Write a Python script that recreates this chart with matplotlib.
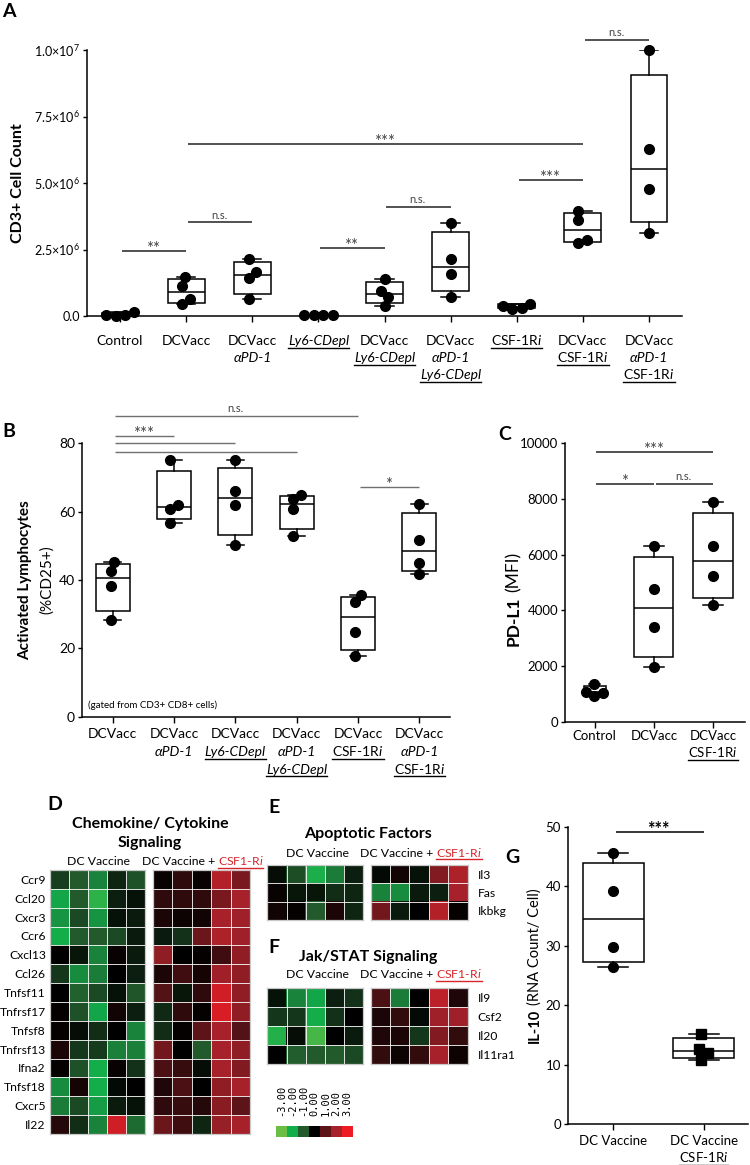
import numpy as np
import matplotlib
matplotlib.use('Agg')
import matplotlib.pyplot as plt
import matplotlib.transforms as mtransforms
from matplotlib.colors import LinearSegmentedColormap
from matplotlib.lines import Line2D

W, H = 750, 1165
plt.rcParams['font.family'] = ['Lato', 'DejaVu Sans']
plt.rcParams['mathtext.fontset'] = 'custom'
plt.rcParams['mathtext.rm'] = 'Lato'
plt.rcParams['mathtext.it'] = 'Lato:italic'
plt.rcParams['mathtext.bf'] = 'Lato:bold'

# ---------------- data ----------------
# A: CD3+ cell count (millions)
a_groups = ['Control', 'DCVacc', 'DCVacc\nαPD-1', 'Ly6-CDepl', 'DCVacc\nLy6-CDepl',
            'DCVacc\nαPD-1\nLy6-CDepl', 'CSF-1Ri', 'DCVacc\nCSF-1Ri', 'DCVacc\nαPD-1\nCSF-1Ri']
a_counts_m = [[0.04, 0.0, 0.04, 0.16],
              [1.47, 1.13, 0.64, 0.45],
              [2.14, 1.67, 1.44, 0.64],
              [0.03, 0.02, 0.03, 0.02],
              [1.38, 0.95, 0.73, 0.39],
              [3.50, 2.13, 1.57, 0.71],
              [0.38, 0.28, 0.30, 0.45],
              [3.96, 3.60, 2.87, 2.74],
              [10.0, 6.28, 4.79, 3.11]]
a_sig = [(0, 1, 2.43, '**'), (1, 2, 3.52, 'n.s.'), (3, 4, 2.56, '**'), (4, 5, 4.11, 'n.s.'),
         (1, 7, 6.48, '***'), (6, 7, 5.11, '***'), (7, 8, 10.38, 'n.s.')]

# B: activated lymphocytes (%CD25+)
b_groups = ['DCVacc', 'DCVacc\nαPD-1', 'DCVacc\nLy6-CDepl', 'DCVacc\nαPD-1\nLy6-CDepl',
            'DCVacc\nCSF-1Ri', 'DCVacc\nαPD-1\nCSF-1Ri']
b_pct = [[45.2, 42.7, 38.3, 28.3],
         [75.1, 62.0, 60.8, 56.8],
         [75.1, 65.9, 62.0, 50.2],
         [64.9, 63.6, 60.8, 53.0],
         [35.6, 33.7, 24.9, 17.8],
         [62.2, 51.7, 45.1, 41.7]]
b_sig = [(0, 4, 88.0, 'n.s.'), (0, 1, 82.1, '***'), (0, 2, 80.0, ''), (0, 3, 77.6, ''),
         (4, 5, 67.3, '*')]

# C: PD-L1 (MFI)
c_groups = ['Control', 'DCVacc', 'DCVacc\nCSF-1Ri']
c_mfi = [[1355, 1078, 934, 1020],
         [6311, 4755, 3413, 1976],
         [7902, 6311, 5244, 4192]]
c_sig = [(0, 2, 9677, '***'), (0, 1, 8549, '*'), (1, 2, 8549, 'n.s.')]

# G: IL-10 RNA count / cell
g_groups = ['DC Vaccine', 'DC Vaccine\nCSF-1Ri']
g_il10 = [[45.5, 39.2, 29.7, 26.4],
          [15.1, 12.55, 11.9, 10.76]]
g_sig = [(0, 1, 49.1, '***')]

# D/E/F heatmaps (z-scores)
d_genes = ['Ccr9', 'Ccl20', 'Cxcr3', 'Ccr6', 'Cxcl13', 'Ccl26', 'Tnfsf11', 'Tnfrsf17',
           'Tnfsf8', 'Tnfrsf13', 'Ifna2', 'Tnfsf18', 'Cxcr5', 'Il22']
d_vacc = [[-0.7, -1.0, -1.5, -0.4, -0.9],
          [-1.9, -1.0, -2.3, -0.35, -0.2],
          [-1.7, -0.8, -1.7, -0.2, -0.3],
          [-2.0, -1.0, -1.0, -0.8, -0.3],
          [0.0, -0.25, -1.5, 0.1, -0.3],
          [-0.6, -1.6, -1.4, 0.0, -0.35],
          [0.0, -1.1, -0.8, -0.2, -0.95],
          [0.05, -0.9, -1.9, 0.2, -0.35],
          [0.05, -0.15, -0.5, 0.0, -1.5],
          [0.3, -0.6, -0.65, -1.45, -1.45],
          [0.05, -0.9, -2.0, 0.1, -0.55],
          [-1.6, 0.25, -2.0, -0.1, 0.0],
          [-1.4, -0.8, -1.8, -0.3, -0.2],
          [0.4, -0.5, -1.5, 2.6, -1.2]]
d_csf = [[0.1, 0.5, 0.1, 2.2, 1.4],
         [0.5, 0.5, 0.5, 1.4, 2.0],
         [0.3, 0.15, 0.2, 2.0, 1.9],
         [-0.3, -0.55, 1.2, 2.1, 1.9],
         [1.7, 0.0, 0.05, 0.7, 1.7],
         [0.3, 0.7, 0.25, 1.9, 1.7],
         [0.9, -0.25, 0.5, 2.6, 1.7],
         [-0.45, 0.5, 0.05, 2.7, 1.7],
         [-0.5, 0.05, 1.0, 2.0, 0.9],
         [1.3, 0.0, -1.0, 2.0, 1.7],
         [0.8, 0.6, -0.15, 2.0, 1.5],
         [0.35, 0.8, 0.0, 1.7, 2.0],
         [0.5, 0.6, 0.4, 1.6, 1.0],
         [1.2, 0.7, -0.4, 1.8, 2.0]]
e_genes = ['Il3', 'Fas', 'Ikbkg']
e_vacc = [[-0.15, -0.85, -2.1, -1.4, -0.35],
          [0.1, -0.25, -0.25, -0.5, -0.4],
          [0.2, 0.05, -1.0, 0.3, -0.4]]
e_csf = [[-0.1, 0.2, -0.2, 1.5, 2.1],
         [-1.5, -1.6, -0.3, -0.35, 2.0],
         [1.3, -0.3, 0.0, 2.2, 0.05]]
f_genes = ['Il9', 'Csf2', 'Il20', 'Il11ra1']
f_vacc = [[-0.2, -1.5, -1.9, -0.35, -0.55],
          [-0.6, -0.6, -2.0, -0.55, 0.0],
          [-2.2, -0.15, -2.6, 0.0, -0.3],
          [0.0, -1.05, -1.0, -1.0, -0.8]]
f_csf = [[0.8, -1.4, 0.0, 2.3, 0.35],
         [0.3, 0.55, -0.1, 1.9, 1.9],
         [0.35, 0.3, -0.6, 1.5, 0.55],
         [0.55, 0.15, 0.55, 2.0, 0.15]]
scale_ticks = [-3, -2, -1, 0, 1, 2, 3]
scale_colors = ['#6abd45', '#12ad4b', '#225a2c', '#000000', '#5c1418', '#a6222a', '#ed1c24']

RED = '#d7262b'

fig = plt.figure(figsize=(W / 100, H / 100), dpi=100)


def fy(y):
    return 1 - y / H


def px_axes(l, t, r, b):
    return fig.add_axes([l / W, 1 - b / H, (r - l) / W, (b - t) / H])


def style_axes(ax):
    for s in ['top', 'right']:
        ax.spines[s].set_visible(False)
    for s in ['left', 'bottom']:
        ax.spines[s].set_linewidth(1.1)
    ax.tick_params(axis='both', length=4, width=1.0, direction='out')


def box_stats(vals):
    v = np.asarray(vals, float)
    q1, med, q3 = np.percentile(v, [25, 50, 75], method='weibull')
    return dict(med=med, q1=q1, q3=q3, whislo=v.min(), whishi=v.max())


def swarm_x(ax, x, vals, diam):
    disp = ax.transData.transform(np.column_stack([np.full(len(vals), x), vals]))
    ys = disp[:, 1]
    order = np.argsort(ys)
    offs = np.zeros(len(vals))
    placed = []
    for i in order:
        cands = [0.0]
        for j in placed:
            dy = ys[i] - ys[j]
            if abs(dy) < diam:
                dx = np.sqrt(diam ** 2 - dy ** 2)
                cands += [offs[j] + dx, offs[j] - dx]
        cands.sort(key=abs)
        for c in cands:
            if all((c - offs[j]) ** 2 + (ys[i] - ys[j]) ** 2 >= diam ** 2 - 1e-6 for j in placed):
                offs[i] = c
                break
        placed.append(i)
    offs -= (offs.max() + offs.min()) / 2
    ppu = ax.transData.transform((1, 0))[0] - ax.transData.transform((0, 0))[0]
    return x + offs / ppu


def box_panel(ax, groups, widths, marker='o', ms=7, diam=9.5, scale=1.0):
    stats = [box_stats(np.asarray(g) * scale) for g in groups]
    ax.bxp(stats, positions=range(len(groups)), widths=widths, showfliers=False,
           patch_artist=True, manage_ticks=False,
           boxprops=dict(facecolor='white', edgecolor='black', linewidth=1.1),
           medianprops=dict(color='black', linewidth=1.1),
           whiskerprops=dict(color='black', linewidth=1.1),
           capprops=dict(color='black', linewidth=1.1))
    for i, g in enumerate(groups):
        v = np.asarray(g) * scale
        xs = swarm_x(ax, i, v, diam)
        ax.plot(xs, v, linestyle='none', marker=marker, ms=ms, color='black',
                zorder=4, clip_on=False)


def sig_bars(ax, bars, scale=1.0, lcol='#222222', tcol='#444444', lw=1.1, fs=8, weight='normal'):
    for i, j, y, lab in bars:
        y = y * scale
        ax.plot([i + 0.03, j - 0.0], [y, y], color=lcol, lw=lw, clip_on=False,
                solid_capstyle='butt')
        if lab:
            star = '*' in lab
            off = -3.0 if star else 3.5
            tr = mtransforms.offset_copy(ax.transData, fig=fig, y=off, units='dots')
            ax.text((i + j) / 2, y, lab, transform=tr, ha='center', va='baseline',
                    fontsize=fs + 4 if star else fs, color=tcol, fontweight=weight,
                    clip_on=False)


underlines = []  # (text, color, drop_px)


def group_labels(ax, labels, first, step, fs):
    trans = mtransforms.blended_transform_factory(ax.transData, fig.transFigure)
    axis_y = H - ax.get_position().y0 * H
    for i, lab in enumerate(labels):
        for k, line in enumerate(lab.split('\n')):
            y = axis_y + first + k * step
            italic = ('PD-1' in line) or ('Ly6' in line)
            under = ('Ly6' in line) or ('CSF' in line)
            s = line.replace('Ri', r'R$\mathit{i}$') if 'CSF' in line else line
            t = ax.text(i, fy(y), s, transform=trans, ha='center', va='baseline',
                        fontsize=fs, fontstyle='italic' if italic else 'normal')
            if under:
                underlines.append((t, 'black', 2.8))


# ---------------- Panel A ----------------
axA = px_axes(87, 50, 682, 316)
style_axes(axA)
axA.set_xlim(-0.5, 8.5)
axA.set_ylim(0, 1e7)
axA.set_yticks([0, 2.5e6, 5e6, 7.5e6, 1e7])


def sci_fmt(v, pos):
    if v == 0:
        return '0.0'
    e = int(np.floor(np.log10(v)))
    return f'{v / 10 ** e:.1f}×10$^{{{e}}}$'


axA.yaxis.set_major_formatter(plt.FuncFormatter(sci_fmt))
axA.tick_params(axis='y', labelsize=9, length=3, pad=2)
axA.set_xticks(range(len(a_groups)))
axA.set_xticklabels([])
box_panel(axA, a_counts_m, 0.556, scale=1e6)
sig_bars(axA, a_sig, scale=1e6)
group_labels(axA, a_groups, 29, 17, 10)
fig.text(18 / W, fy(183), 'CD3+ Cell Count', rotation=90, ha='center', va='center',
         fontsize=11.5, fontweight='bold')

# ---------------- Panel B ----------------
axB = px_axes(82, 443.3, 450, 716.7)
style_axes(axB)
axB.set_xlim(-0.5, 5.5)
axB.set_ylim(0, 80)
axB.set_yticks([0, 20, 40, 60, 80])
axB.tick_params(axis='y', labelsize=10, length=3, pad=2)
axB.set_xticks(range(len(b_groups)))
axB.set_xticklabels([])
box_panel(axB, b_pct, 0.55, diam=9)
sig_bars(axB, b_sig, lcol='#707070', tcol='#444444', lw=1.0)
group_labels(axB, b_groups, 21.6, 17.6, 10)
axB.text(6 / 368, 11.5 / 273.4, '(gated from CD3+ CD8+ cells)', transform=axB.transAxes,
         fontsize=7, ha='left', va='center')
fig.text(25 / W, fy(580), 'Activated Lymphocytes', rotation=90, ha='center', va='center',
         fontsize=11, fontweight='bold')
fig.text(47 / W, fy(580), '(%CD25+)', rotation=90, ha='center', va='center', fontsize=11)

# ---------------- Panel C ----------------
axC = px_axes(565, 443.3, 745, 721.7)
style_axes(axC)
axC.set_xlim(-0.5, 2.54)
axC.set_ylim(0, 10000)
axC.set_yticks([0, 2000, 4000, 6000, 8000, 10000])
axC.tick_params(axis='y', labelsize=9.5, length=3, pad=2)
axC.set_xticks(range(len(c_groups)))
axC.set_xticklabels([])
box_panel(axC, c_mfi, [0.37, 0.66, 0.66], diam=9)
sig_bars(axC, c_sig)
group_labels(axC, c_groups, 18.3, 16.7, 9.5)
fig.text(514 / W, fy(597), 'PD-L1', rotation=90, ha='center', va='top',
         fontsize=12.5, fontweight='bold')
fig.text(514 / W, fy(592), '(MFI)', rotation=90, ha='center', va='bottom', fontsize=12.5)

# ---------------- Panel G ----------------
axG = px_axes(568, 826.7, 748, 1124)
style_axes(axG)
axG.set_xlim(-0.5, 1.49)
axG.set_ylim(0, 50)
axG.set_yticks([0, 10, 20, 30, 40, 50])
axG.tick_params(axis='y', labelsize=9.5, length=3, pad=2)
axG.set_xticks(range(len(g_groups)))
axG.set_xticklabels([])
stats = [box_stats(g) for g in g_il10]
axG.bxp(stats, positions=range(2), widths=0.67, showfliers=False, patch_artist=True,
        manage_ticks=False,
        boxprops=dict(facecolor='white', edgecolor='black', linewidth=1.1),
        medianprops=dict(color='black', linewidth=1.1),
        whiskerprops=dict(color='black', linewidth=1.1),
        capprops=dict(color='black', linewidth=1.1))
for i, (g, m) in enumerate(zip(g_il10, ['o', 's'])):
    axG.plot(swarm_x(axG, i, g, 10), g, linestyle='none', marker=m, ms=7 if m == 'o' else 6.5,
             color='black', zorder=4, clip_on=False)
sig_bars(axG, g_sig, lcol='black', tcol='black', fs=9, weight='bold')
group_labels(axG, g_groups, 21, 16.7, 9.5)
fig.text(535 / W, fy(1009), 'IL-10', rotation=90, ha='center', va='top',
         fontsize=10.5, fontweight='bold')
fig.text(535 / W, fy(1005), '(RNA Count/ Cell)', rotation=90, ha='center', va='bottom',
         fontsize=10.5)

# ---------------- Heatmaps ----------------
cmap = LinearSegmentedColormap.from_list('grk', scale_colors)


def heat(l, t, r, b, data, genes=None, side=None):
    ax = px_axes(l, t, r, b)
    arr = np.asarray(data)
    ax.imshow(arr, cmap=cmap, vmin=-3, vmax=3, aspect='auto', interpolation='nearest')
    ax.set_xticks(np.arange(arr.shape[1] + 1) - 0.5, minor=True)
    ax.set_yticks(np.arange(arr.shape[0] + 1) - 0.5, minor=True)
    ax.grid(which='minor', color=(1, 1, 1, 0.07), linewidth=0.6)
    ax.tick_params(which='both', length=0)
    ax.set_xticks([])
    if genes is not None:
        ax.set_yticks(range(len(genes)))
        ax.set_yticklabels(genes, fontsize=8.7)
        if side == 'right':
            ax.yaxis.tick_right()
            ax.tick_params(axis='y', pad=7, length=0)
        else:
            ax.tick_params(axis='y', pad=3, length=0)
    else:
        ax.set_yticks([])
    for s in ax.spines.values():
        s.set_color('#c8c8c8')
        s.set_linewidth(0.9)
    return ax


heat(50, 870, 145, 1134, d_vacc, d_genes, 'left')
heat(152.7, 870, 250, 1134, d_csf)
heat(267.3, 865, 363.3, 920, e_vacc)
heat(370.7, 865, 467.7, 920, e_csf, e_genes, 'right')
heat(267.3, 988, 363.3, 1064, f_vacc)
heat(370.7, 988, 467.7, 1064, f_csf, f_genes, 'right')

# colour scale
axS = px_axes(276, 1126, 353, 1137)
axS.imshow(np.array(scale_ticks)[None, :], cmap=cmap, vmin=-3, vmax=3, aspect='auto',
           interpolation='nearest')
axS.xaxis.tick_top()
axS.set_xticks(range(len(scale_ticks)))
axS.set_xticklabels([f'{v:.2f}' for v in scale_ticks], rotation=90, fontsize=7.5,
                    family='DejaVu Sans Mono')
axS.tick_params(axis='x', length=0, pad=7)
axS.set_yticks([])
for s in axS.spines.values():
    s.set_visible(False)

# titles & headers
fig.text(150 / W, fy(828), 'Chemokine/ Cytokine', ha='center', va='baseline',
         fontsize=11.5, fontweight='bold')
fig.text(150 / W, fy(847), 'Signaling', ha='center', va='baseline', fontsize=11.5,
         fontweight='bold')
fig.text(368 / W, fy(838.3), 'Apoptotic Factors', ha='center', va='baseline',
         fontsize=11.5, fontweight='bold')
fig.text(368 / W, fy(960.7), 'Jak/STAT Signaling', ha='center', va='baseline',
         fontsize=11.5, fontweight='bold')

pairs = []
for cx_l, cx_r, base in [(98.5, 202.5, 865), (318, 421, 856.7), (318, 421, 978.3)]:
    fig.text(cx_l / W, fy(base), 'DC Vaccine', ha='center', va='baseline', fontsize=8.8)
    t1 = fig.text(0, fy(base), 'DC Vaccine +', ha='left', va='baseline', fontsize=8.8)
    t2 = fig.text(0, fy(base), r'CSF1-R$\mathit{i}$', ha='left', va='baseline',
                  fontsize=8.8, color=RED)
    pairs.append((t1, t2, cx_r))
    underlines.append((t2, RED, 2.5))

# panel letters
for letter, x, y in [('A', 2, 17), ('B', 2, 437), ('C', 498, 440), ('D', 47, 810),
                     ('E', 268, 813), ('F', 268, 953), ('G', 505, 863)]:
    fig.text(x / W, fy(y), letter, ha='left', va='baseline', fontsize=14, fontweight='bold')

# ---------------- layout of composite labels & underlines ----------------
fig.canvas.draw()
r = fig.canvas.get_renderer()
gap = 3.0
for t1, t2, cx in pairs:
    w1 = t1.get_window_extent(r).width
    w2 = t2.get_window_extent(r).width
    x0 = cx - (w1 + gap + w2) / 2
    t1.set_x(x0 / W)
    t2.set_x((x0 + w1 + gap) / W)

fig.canvas.draw()
inv = fig.transFigure.inverted()
for t, col, drop in underlines:
    bb = t.get_window_extent(r)
    base = t.get_transform().transform(t.get_position())[1]
    (x0, y0), (x1, _) = inv.transform([(bb.x0, base - drop), (bb.x1, base - drop)])
    fig.add_artist(Line2D([x0, x1], [y0, y0], transform=fig.transFigure, color=col, lw=1.0))

fig.savefig('out.png', dpi=100)
